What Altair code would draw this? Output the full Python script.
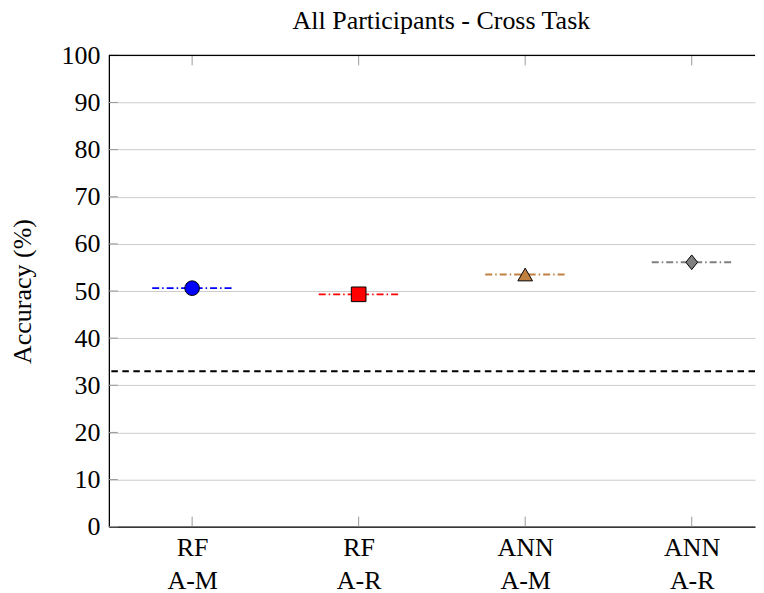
import altair as alt
import pandas as pd

# ---- data ----
title_text = ["All Participants - Cross Task"]
models = ["RF", "RF", "ANN", "ANN"]
datasets = ["A-M", "A-R", "A-M", "A-R"]
accuracy = [50.6, 49.3, 53.5, 56.1]
colors = ["#0000ff", "#ff0000", "#bf8040", "#808080"]
shapes = ["circle", "square", "triangle-up", "M0,-1L0.8,0L0,1L-0.8,0Z"]
chance_level = [33.0]
y_ticks = list(range(0, 101, 10))

FONT = "Liberation Serif"
W, H = 647, 472
HALF = 0.24
X_MAX = 4.38   # the reference's plot area is cut by the right edge of the window

df = pd.DataFrame({
    "idx": list(range(1, len(models) + 1)),
    "model": models,
    "dataset": datasets,
    "acc": accuracy,
    "color": colors,
    "shape": shapes,
})

label_expr = "[" + ",".join(f"['{m}','{d}']" for m, d in zip(models, datasets)) + "][datum.value - 1]"

xscale = alt.Scale(domain=[0.5, X_MAX], nice=False, zero=False)
yscale = alt.Scale(domain=[0, 100], nice=False, zero=True)
YT = "Accuracy (%)"

xaxis = alt.Axis(values=df["idx"].tolist(), labelExpr=label_expr, ticks=False, grid=False,
                 labelPadding=8, labelFontSize=26, labelLineHeight=33, labelFont=FONT,
                 labelColor="black", domainColor="black", domainWidth=1.3, labelAngle=0)
yaxis = alt.Axis(values=y_ticks, ticks=False, grid=True, gridColor="#cccccc", gridWidth=1,
                 labelPadding=9, labelFontSize=26, labelFont=FONT, labelColor="black",
                 domainColor="black", domainWidth=1.3, titleFont=FONT, titleFontSize=26,
                 titleFontWeight="normal", titleColor="black", titleX=-86, titleY=H / 2,
                 titleAngle=270, titleBaseline="middle", titleAlign="center")

base = alt.Chart(df)

means = base.transform_calculate(
    xa=f"datum.idx - {HALF}", xb=f"datum.idx + {HALF}"
).mark_rule(strokeWidth=1.8, strokeDash=[7, 3, 1.5, 3]).encode(
    x=alt.X("xa:Q", scale=xscale, axis=xaxis, title=None),
    x2="xb:Q",
    y=alt.Y("acc:Q", scale=yscale, axis=yaxis, title=YT),
    color=alt.Color("color:N", scale=None),
)

points = base.mark_point(filled=True, stroke="black", strokeWidth=1, opacity=1, size=215).encode(
    x=alt.X("idx:Q", title=None),
    y=alt.Y("acc:Q", title=YT),
    fill=alt.Fill("color:N", scale=None),
    shape=alt.Shape("shape:N", scale=None),
)

chance = alt.Chart(pd.DataFrame({"chance": chance_level})).mark_rule(
    color="black", strokeWidth=2, strokeDash=[6.5, 4.5]
).encode(y=alt.Y("chance:Q", title=YT))

top_border = alt.Chart(pd.DataFrame({"top": [100]})).mark_rule(
    color="black", strokeWidth=1.3
).encode(y=alt.Y("top:Q", title=YT))

yticks = alt.Chart(pd.DataFrame({"t": y_ticks})).mark_rule(color="#999999", strokeWidth=1).encode(
    y=alt.Y("t:Q", title=YT), x=alt.value(0), x2=alt.value(9)
)
xticks_top = base.mark_rule(color="#999999", strokeWidth=1).encode(
    x=alt.X("idx:Q", title=None), y=alt.value(0), y2=alt.value(10)
)
xticks_bot = base.mark_rule(color="#999999", strokeWidth=1).encode(
    x=alt.X("idx:Q", title=None), y=alt.value(H - 10), y2=alt.value(H)
)

title = alt.Chart(pd.DataFrame({"title": title_text})).mark_text(
    font=FONT, fontSize=26, color="black", align="center", baseline="alphabetic"
).encode(text="title:N", x=alt.value(333), y=alt.value(-26))

chart = alt.layer(
    means, chance, yticks, xticks_top, xticks_bot, points, top_border, title
).properties(
    width=W, height=H,
    padding={"left": 2, "top": 0, "right": 0, "bottom": 0},
).configure_view(stroke=None)

chart.save("out.html", embed_options={"renderer": "svg", "actions": False})
